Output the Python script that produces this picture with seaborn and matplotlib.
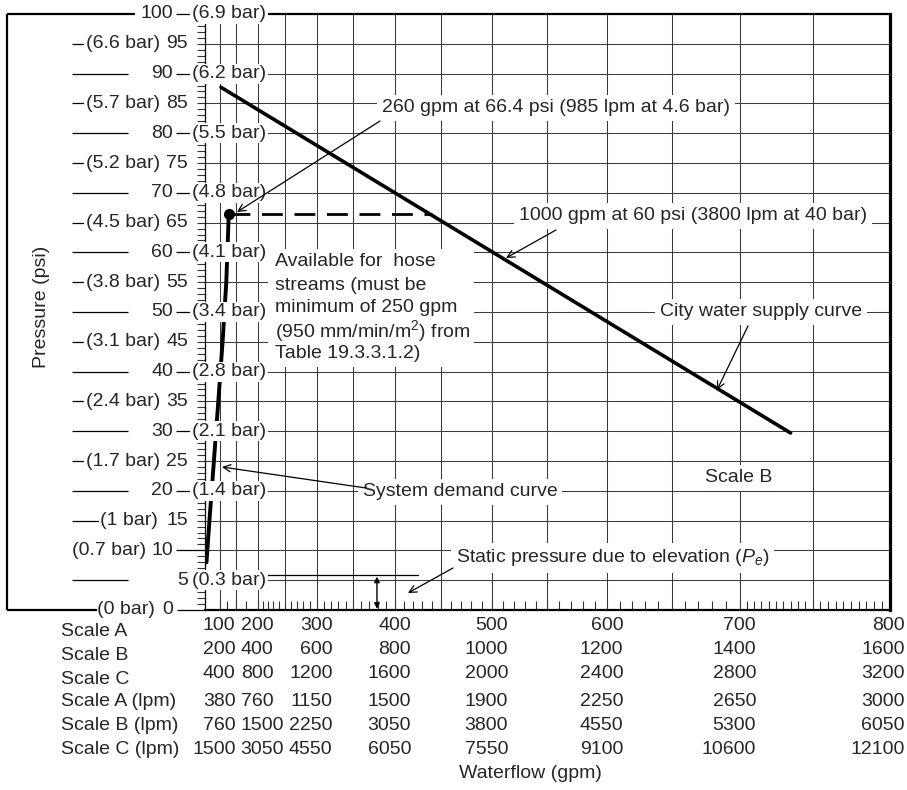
import numpy as np
import pandas as pd
import matplotlib
matplotlib.use("Agg")
import matplotlib.pyplot as plt
import seaborn as sns
from matplotlib.lines import Line2D
from matplotlib.patches import Rectangle

# ---------------- data (flows in gpm on Scale B, pressures in psi) ----------------
supply_flow = [210, 1470]
supply_psi = [87.7, 29.7]
demand_flow = [58, 105, 153, 190, 221, 245, 260]
demand_psi = [8, 15, 25, 35, 45, 55, 66.4]
design_flow = [260]
design_psi = [66.4]
hose_flow = [260, 880]
hose_psi = [66.4, 66.4]
elev_flow = [0, 850]
elev_psi = [5.9, 5.9]
elev_arrow_flow = 758

psi_values = [100, 95, 90, 85, 80, 75, 70, 65, 60, 55, 50, 45, 40, 35, 30, 25, 20, 15, 10, 5, 0]
bar_values = ["6.9", "6.6", "6.2", "5.7", "5.5", "5.2", "4.8", "4.5", "4.1", "3.8", "3.4",
              "3.1", "2.8", "2.4", "2.1", "1.7", "1.4", "1", "0.7", "0.3", "0"]

grid_flow = [200, 300, 400, 500, 600, 700, 800, 900, 1000, 1100, 1200, 1300, 1400, 1500]
grid_psi = [5, 10, 15, 20, 25, 30, 35, 40, 45, 50, 55, 60, 65, 70, 75, 80, 85, 90, 95]
xtick_flow = ([200, 250, 300, 350, 400] + list(range(420, 1400, 20)) + list(range(1400, 1600, 10)))
ytick_psi = [p for p in range(1, 100) if p % 10 != 0]

row_names = ["Scale A", "Scale B", "Scale C", "Scale A (lpm)", "Scale B (lpm)", "Scale C (lpm)"]
scale_a = [100, 200, 300, 400, 500, 600, 700, 800]
scale_b = [200, 400, 600, 800, 1000, 1200, 1400, 1600]
scale_c = [400, 800, 1200, 1600, 2000, 2400, 2800, 3200]
scale_a_lpm = [380, 760, 1150, 1500, 1900, 2250, 2650, 3000]
scale_b_lpm = [760, 1500, 2250, 3050, 3800, 4550, 5300, 6050]
scale_c_lpm = [1500, 3050, 4550, 6050, 7550, 9100, 10600, 12100]

hose_note = ["Available for  hose", "streams (must be", "minimum of 250 gpm",
             "(950 mm/min/m$^2$) from", "Table 19.3.3.1.2)"]

# ---------------- style ----------------
sns.set_theme(style="white")
plt.rcParams["font.family"] = ["Liberation Sans", "DejaVu Sans"]
plt.rcParams["mathtext.fontset"] = "custom"
plt.rcParams["mathtext.rm"] = "Liberation Sans"
plt.rcParams["mathtext.it"] = "Liberation Sans:italic"
FS = 14
W, H = 907, 790
X0, X1, Y0, Y1 = 205, 890, 14, 610
GRID = "#3a3a3a"
WHITE = dict(boxstyle="square,pad=0.25", fc="white", ec="none")
WHITE_S = dict(boxstyle="square,pad=0.08", fc="white", ec="none")

fig = plt.figure(figsize=(W / 100, H / 100), dpi=100)
ax = fig.add_axes([X0 / W, (H - Y1) / H, (X1 - X0) / W, (Y1 - Y0) / H])


def axx(px):
    return (px - X0) / (X1 - X0)


def fline(x0, y0, x1, y1, lw=1.5):
    fig.add_artist(Line2D([x0 / W, x1 / W], [1 - y0 / H, 1 - y1 / H], transform=fig.transFigure,
                          color="black", lw=lw, solid_capstyle="butt"))


def ptext(s, px, py, **kw):
    kw.setdefault("fontsize", FS)
    return ax.annotate(s, xy=(px, H - py), xycoords="figure pixels", annotation_clip=False,
                       zorder=5, **kw)


def parrow(tail, tip, style="->"):
    ax.annotate("", xy=(tip[0], H - tip[1]), xytext=(tail[0], H - tail[1]),
                xycoords="figure pixels", textcoords="figure pixels", annotation_clip=False,
                arrowprops=dict(arrowstyle=style, lw=0.9, color="black", shrinkA=0, shrinkB=0,
                                mutation_scale=13), zorder=6)


# ---------------- grid ----------------
ax.vlines(grid_flow, 0, 100, color=GRID, lw=0.75, zorder=1)
ax.hlines(grid_psi, 0, 1600, color=GRID, lw=0.75, zorder=1)

# ---------------- curves ----------------
sns.lineplot(x=supply_flow, y=supply_psi, ax=ax, color="black", lw=2.6, zorder=4)
sns.lineplot(x=demand_flow, y=demand_psi, ax=ax, color="black", lw=2.8, zorder=4, sort=False)
ax.plot(hose_flow, hose_psi, color="black", lw=2.0, dashes=(7.5, 4.2), zorder=4)
sns.scatterplot(x=design_flow, y=design_psi, ax=ax, color="black", s=64, zorder=5,
                edgecolor="black", linewidth=0)
ax.plot(elev_flow, elev_psi, color="black", lw=0.9, zorder=2)
ax.annotate("", xy=(elev_arrow_flow, 0.2), xytext=(elev_arrow_flow, 5.6),
            arrowprops=dict(arrowstyle="<|-|>", lw=1.0, color="black", shrinkA=0, shrinkB=0,
                            mutation_scale=8), zorder=6)

ax.set_xscale("function", functions=(lambda x: np.sign(x) * np.abs(x) ** 1.85,
                                     lambda x: np.sign(x) * np.abs(x) ** (1 / 1.85)))
ax.set_xlim(0, 1600)
ax.set_ylim(0, 100)
ax.set_xlabel("")
ax.set_ylabel("")
ax.set_xticks(xtick_flow)
ax.set_yticks(ytick_psi)
ax.tick_params(axis="x", direction="in", length=6.5, width=0.8, color="#333333",
               labelbottom=False, bottom=True, top=False)
ax.tick_params(axis="y", direction="out", length=5.8, width=0.8, color="#333333",
               labelleft=False, left=True, right=False)
ax.minorticks_off()
for side, lw in [("left", 0.9), ("bottom", 1.6), ("top", 1.6), ("right", 2.3)]:
    ax.spines[side].set_visible(True)
    ax.spines[side].set_color("black")
    ax.spines[side].set_linewidth(lw)

# ---------------- outer frame ----------------
fline(7, Y0, 7, Y1, lw=1.6)
fline(7, Y0, 135, Y0, lw=1.6)
fline(7, Y1, 97, Y1, lw=1.6)

# ---------------- left pressure labels ----------------
yt = ax.get_yaxis_transform()


def seg(px0, px1, v, lw=0.9):
    ax.plot([axx(px0), axx(px1)], [v, v], transform=yt, clip_on=False, color="black",
            lw=lw, zorder=2, solid_capstyle="butt")


def ytxt(px, v, s, ha, box=False):
    kw = dict(bbox=WHITE_S) if box else {}
    ax.text(axx(px), v, s, transform=yt, ha=ha, va="center", fontsize=FS, zorder=5, **kw)


for v, b in zip(psi_values, bar_values):
    lab = f"({b} bar)"
    if v == 100:
        ytxt(173, v, str(v), "right")
        seg(176, 205, v)
        ytxt(192, v, lab, "left", box=True)
    elif v % 10 == 0 and v >= 20:
        seg(72, 128, v)
        ytxt(173, v, str(v), "right")
        seg(176, 205, v)
        ytxt(192, v, lab, "left", box=True)
    elif v % 10 == 5 and v >= 15:
        right = 158 if v == 15 else 160
        seg(72, right, v)
        ytxt(right, v, lab, "right", box=True)
        ytxt(188, v, str(v), "right")
    elif v == 10:
        ytxt(146, v, lab, "right")
        ytxt(173, v, str(v), "right")
        seg(176, 205, v)
    elif v == 5:
        seg(72, 128, v)
        ytxt(188, v, str(v), "right")
        ytxt(192, v, lab, "left", box=True)
    else:  # 0
        ytxt(155, v, lab, "right")
        ytxt(173, v, str(v), "right")
        seg(177, 205, v)

# ---------------- annotations ----------------
ptext("260 gpm at 66.4 psi (985 lpm at 4.6 bar)", 382, 108, ha="left", va="center", bbox=WHITE)
parrow((380, 121), (237, 212))
ptext("1000 gpm at 60 psi (3800 lpm at 40 bar)", 519, 216, ha="left", va="center", bbox=WHITE)
parrow((556, 230), (506, 258))
# one white panel behind the multi-line note
ax.add_patch(Rectangle((268 / W, 1 - 367 / H), 206 / W, 118 / H, transform=fig.transFigure,
                       facecolor="white", edgecolor="none", zorder=4.5, clip_on=False))
for i, line in enumerate(hose_note):
    ptext(line, 275, 262 + 23 * i, ha="left", va="center")
ptext("City water supply curve", 862, 312, ha="right", va="center", bbox=WHITE)
parrow((748, 326), (717, 390))
ptext("Scale B", 739, 478, ha="center", va="center", bbox=WHITE)
ptext("System demand curve", 460, 492, ha="center", va="center", bbox=WHITE)
parrow((366, 488), (222, 467))
ptext("Static pressure due to elevation ($P_e$)", 456, 558, ha="left", va="center", bbox=WHITE)
parrow((453, 568), (408, 593))

ptext("Pressure (psi)", 42, 307, ha="center", va="center", rotation=90)
ptext("Waterflow (gpm)", 530, 773, ha="center", va="center")

# ---------------- scale table under the axis ----------------
label_y = [631, 655, 679, 702, 726, 750]
value_y = [625, 649, 673, 702, 726, 750]
rows = [scale_a, scale_b, scale_c, scale_a_lpm, scale_b_lpm, scale_c_lpm]
fig.canvas.draw()
col_px = [ax.transData.transform((2 * a, 0))[0] for a in scale_a]
for name, ly in zip(row_names, label_y):
    ptext(name, 61, ly, ha="left", va="center")
for vals, vy in zip(rows, value_y):
    for i, (val, cx) in enumerate(zip(vals, col_px)):
        if i == 1:
            ptext(str(val), cx - 17, vy, ha="left", va="center")
        elif i == len(vals) - 1:
            ptext(str(val), 905, vy, ha="right", va="center")
        else:
            ptext(str(val), cx + 16, vy, ha="right", va="center")

fig.savefig("out.png", dpi=100)
